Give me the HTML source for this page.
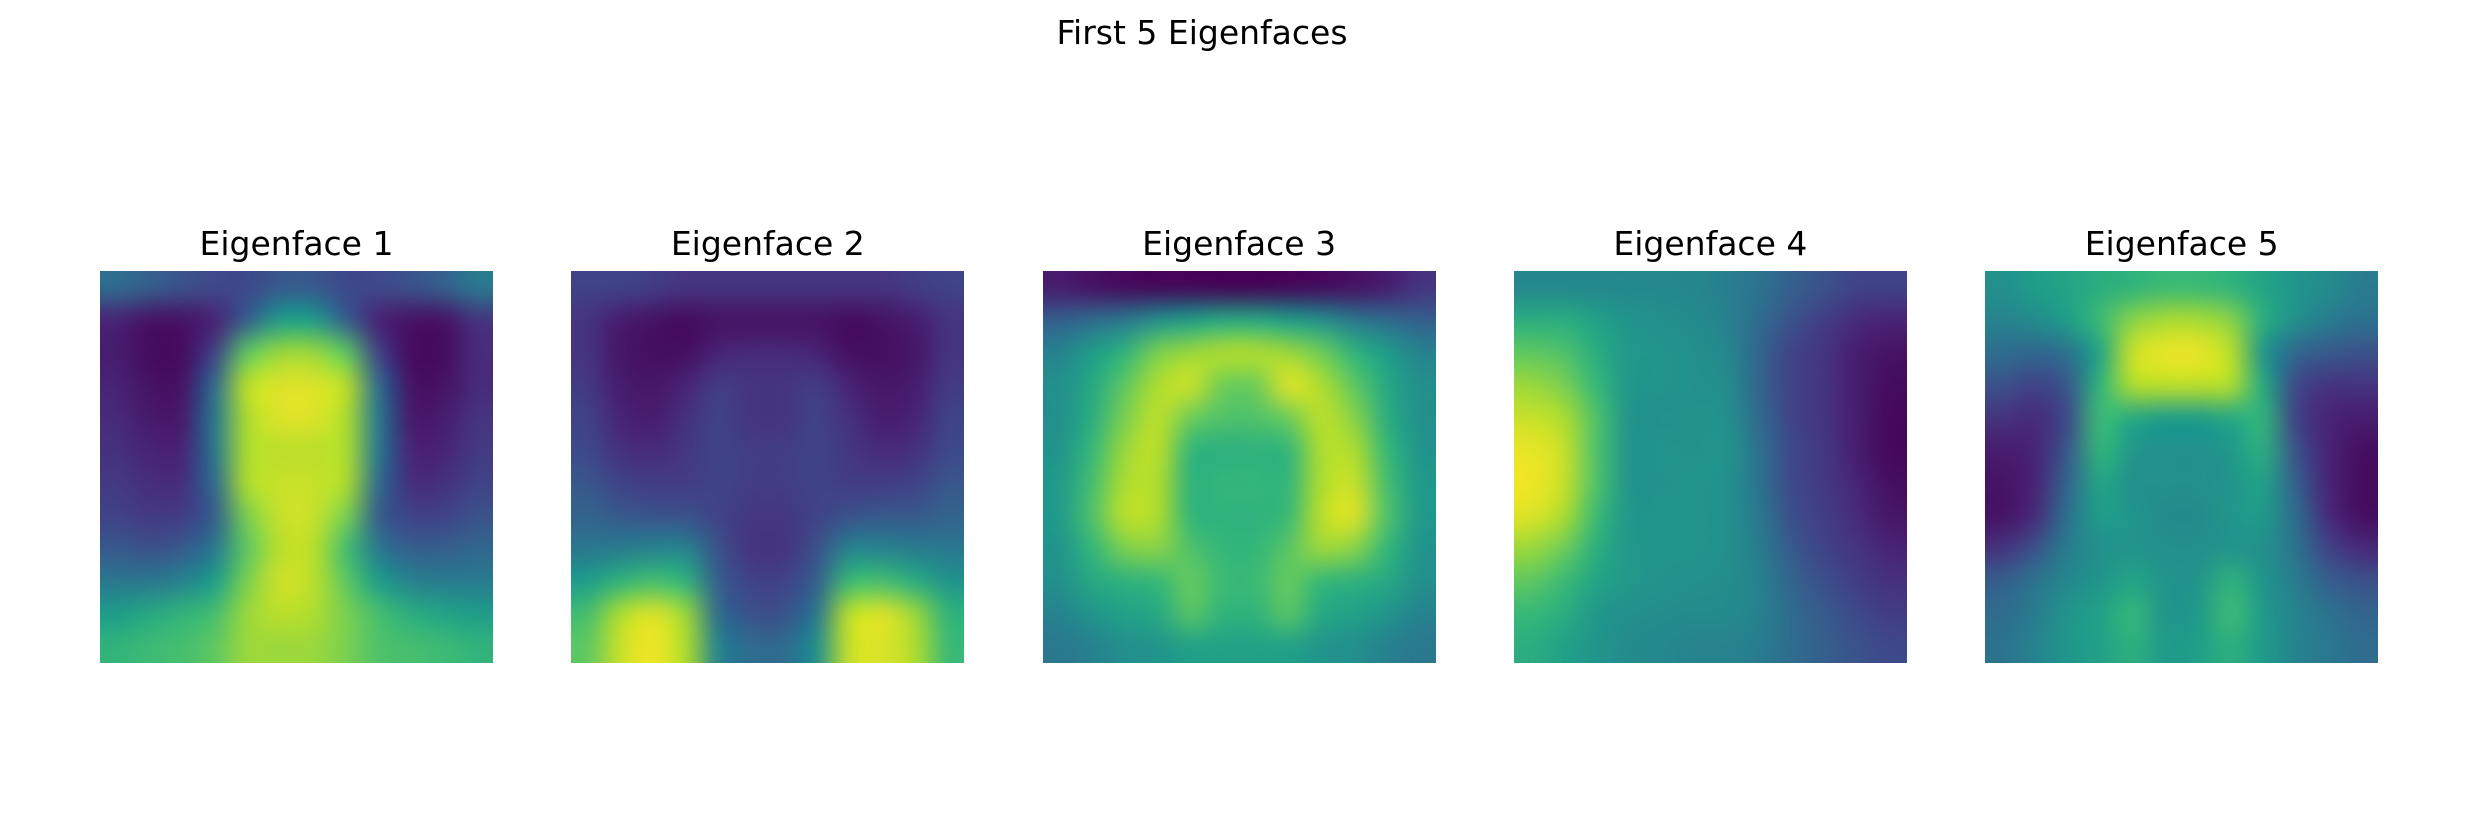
<!DOCTYPE html>
<html><head><meta charset="utf-8">
<style>
body{margin:0;background:#fff;width:2476px;height:840px;position:relative;overflow:hidden;font-family:"DejaVu Sans","Liberation Sans",sans-serif;}
.t{position:absolute;text-align:center;color:#000;white-space:nowrap;}
canvas{position:absolute;image-rendering:auto;}
</style></head><body>
<div class="t" style="left:1002px;width:400px;top:13px;font-size:33px;">First 5 Eigenfaces</div>
<div id="fig"></div>
<script>
const titles=["Eigenface 1","Eigenface 2","Eigenface 3","Eigenface 4","Eigenface 5"];
const face1=[
[.35,.3,.25,.22,.22,.28,.28,.22,.22,.25,.3,.4],
[.1,.05,.05,.1,.3,.55,.55,.3,.1,.05,.05,.15],
[.08,.03,.03,.2,.75,.85,.85,.75,.2,.03,.03,.12],
[.1,.05,.05,.35,.9,.95,.95,.9,.35,.05,.05,.12],
[.12,.07,.07,.4,.88,.95,.95,.88,.4,.07,.08,.15],
[.14,.1,.1,.4,.88,.9,.9,.88,.4,.1,.1,.17],
[.17,.13,.13,.35,.88,.92,.92,.88,.35,.13,.14,.2],
[.2,.17,.18,.3,.8,.92,.92,.8,.3,.2,.2,.25],
[.28,.25,.28,.4,.75,.9,.9,.7,.4,.3,.3,.33],
[.4,.4,.45,.55,.8,.93,.9,.75,.55,.45,.42,.42],
[.55,.6,.65,.7,.85,.9,.88,.8,.7,.62,.58,.55],
[.65,.68,.7,.75,.85,.85,.85,.8,.72,.7,.68,.65]];
const face2=[
[.2,.2,.18,.15,.15,.15,.15,.15,.15,.15,.18,.2],
[.15,.08,.05,.03,.05,.05,.05,.05,.03,.05,.08,.15],
[.15,.06,.04,.04,.1,.12,.12,.1,.04,.04,.06,.15],
[.17,.08,.06,.1,.18,.15,.15,.18,.1,.06,.08,.17],
[.2,.1,.08,.14,.2,.15,.15,.2,.14,.08,.1,.2],
[.22,.14,.12,.16,.2,.18,.18,.2,.16,.12,.14,.22],
[.27,.2,.18,.18,.2,.18,.18,.2,.18,.18,.2,.27],
[.32,.28,.26,.25,.2,.16,.16,.2,.25,.28,.28,.32],
[.4,.42,.45,.45,.25,.15,.15,.25,.45,.45,.42,.4],
[.55,.65,.7,.65,.3,.2,.2,.3,.68,.7,.62,.52],
[.7,.88,.95,.85,.35,.25,.25,.4,.9,.95,.85,.65],
[.75,.92,.98,.88,.45,.35,.35,.5,.92,.95,.88,.68]];
const face3=[
[.08,.05,.03,.02,.02,.01,.01,.02,.03,.05,.08,.15],
[.3,.35,.4,.5,.55,.6,.6,.55,.5,.4,.35,.3],
[.45,.55,.65,.8,.85,.88,.88,.85,.78,.65,.55,.45],
[.5,.6,.75,.88,.92,.78,.78,.95,.88,.75,.6,.5],
[.5,.62,.8,.9,.78,.72,.72,.78,.9,.82,.62,.5],
[.52,.67,.85,.9,.66,.63,.64,.66,.88,.88,.67,.52],
[.54,.7,.88,.88,.65,.66,.66,.66,.88,.92,.7,.54],
[.54,.72,.9,.88,.66,.64,.64,.68,.9,.95,.72,.54],
[.52,.66,.8,.82,.72,.66,.66,.74,.85,.82,.66,.52],
[.5,.6,.64,.67,.76,.68,.68,.76,.67,.64,.6,.5],
[.45,.52,.57,.6,.73,.65,.65,.73,.6,.57,.52,.45],
[.4,.44,.5,.52,.57,.57,.57,.57,.52,.5,.44,.4]];
const face4=[
[.47,.47,.47,.47,.47,.46,.43,.38,.3,.25,.2,.2],
[.62,.62,.57,.52,.5,.48,.44,.35,.25,.18,.12,.1],
[.75,.72,.62,.53,.52,.5,.47,.32,.2,.15,.08,.05],
[.85,.8,.67,.53,.52,.5,.49,.32,.2,.15,.08,.03],
[.92,.88,.72,.52,.5,.51,.5,.34,.2,.15,.08,.02],
[.97,.92,.72,.52,.52,.51,.52,.37,.22,.16,.08,.02],
[.98,.92,.72,.52,.51,.52,.5,.38,.22,.17,.1,.04],
[.95,.88,.68,.53,.52,.52,.5,.4,.24,.18,.12,.06],
[.85,.78,.63,.53,.52,.52,.5,.42,.28,.2,.15,.1],
[.75,.68,.58,.53,.51,.5,.49,.44,.32,.24,.18,.14],
[.67,.62,.53,.5,.49,.48,.48,.44,.35,.28,.22,.18],
[.62,.57,.52,.48,.47,.45,.45,.42,.35,.3,.25,.22]];
const face5=[
[.5,.55,.58,.62,.65,.68,.68,.65,.58,.52,.48,.42],
[.45,.48,.55,.68,.82,.87,.87,.82,.62,.5,.42,.37],
[.36,.33,.37,.58,.92,.97,.97,.9,.52,.33,.28,.25],
[.25,.2,.27,.65,.88,.9,.9,.88,.6,.22,.15,.15],
[.15,.12,.22,.68,.6,.55,.55,.6,.65,.2,.1,.08],
[.08,.1,.27,.65,.53,.5,.5,.53,.62,.25,.1,.04],
[.05,.1,.32,.58,.5,.5,.5,.52,.57,.3,.1,.03],
[.05,.12,.37,.55,.52,.48,.48,.52,.54,.35,.12,.04],
[.15,.25,.42,.5,.52,.5,.5,.52,.5,.38,.2,.12],
[.3,.38,.47,.52,.58,.52,.52,.64,.52,.42,.3,.25],
[.35,.42,.52,.57,.66,.52,.54,.68,.54,.45,.38,.32],
[.38,.45,.52,.57,.63,.54,.56,.63,.54,.45,.4,.35]];
const faces=[face1,face2,face3,face4,face5];

const VIR=[[68,1,84],[72,40,120],[62,74,137],[49,104,142],[38,130,142],[31,158,137],[53,183,121],[109,205,89],[180,222,44],[253,231,37]];
function viridis(v){v=Math.max(0,Math.min(1,v))*(VIR.length-1);const i=Math.min(Math.floor(v),VIR.length-2),f=v-i;
 const a=VIR[i],b=VIR[i+1];return [0,1,2].map(k=>Math.round(a[k]+(b[k]-a[k])*f));}
const left0=100, step=471.3, top0=271, W=393, H=392;
function xPos(i){return left0+i*step;}
const fig=document.getElementById('fig');
faces.forEach((grid,i)=>{
  const t=document.createElement('div');
  t.className='t';
  
  
  t.style.left=(xPos(i)-50)+'px';t.style.width=(W+100)+'px';t.style.top='224px';t.style.fontSize='33px';
  t.textContent=titles[i];fig.appendChild(t);
  const rows=grid.length, cols=grid[0].length;
  const src=document.createElement('canvas');src.width=cols;src.height=rows;
  const sc=src.getContext('2d');const img=sc.createImageData(cols,rows);
  for(let r=0;r<rows;r++)for(let c=0;c<cols;c++){const col=viridis(grid[r][c]);const o=(r*cols+c)*4;
    img.data[o]=col[0];img.data[o+1]=col[1];img.data[o+2]=col[2];img.data[o+3]=255;}
  sc.putImageData(img,0,0);
  const cv=document.createElement('canvas');
  
  
  cv.width=W;cv.height=H;cv.style.left=xPos(i)+'px';cv.style.top=top0+'px';
  const ctx=cv.getContext('2d');ctx.imageSmoothingEnabled=true;ctx.imageSmoothingQuality='high';
  ctx.drawImage(src,0,0,cols,rows,0,0,W,H);
  fig.appendChild(cv);
});
</script>
</body></html>
